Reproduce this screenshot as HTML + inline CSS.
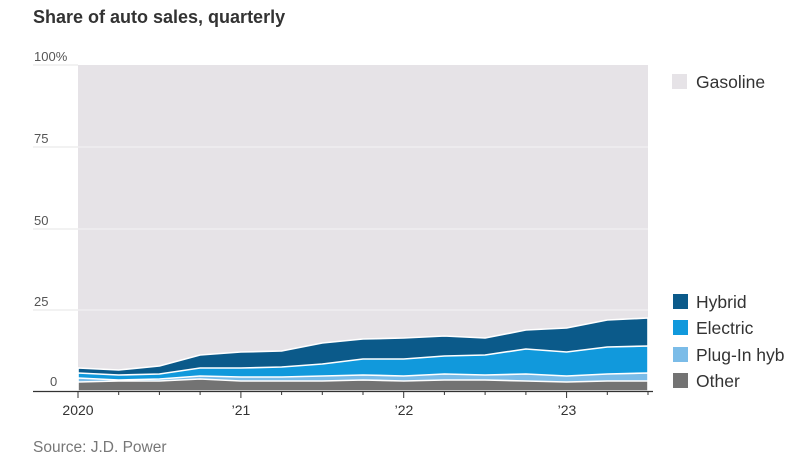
<!DOCTYPE html>
<html><head><meta charset="utf-8"><style>
html,body{margin:0;padding:0;background:#fff;}
svg{display:block;font-family:"Liberation Sans",sans-serif;}
</style></head><body>
<svg width="796" height="461" viewBox="0 0 796 461">
<text x="33" y="23" font-size="18" font-weight="bold" fill="#333">Share of auto sales, quarterly</text>
<rect x="78" y="65" width="570" height="326" fill="#e6e3e7"/>
<g stroke="#f4f3f5" stroke-width="1">
<line x1="78" y1="147" x2="648" y2="147"/><line x1="78" y1="229" x2="648" y2="229"/><line x1="78" y1="310" x2="648" y2="310"/>
</g>
<g stroke="#e5e5e5" stroke-width="1">
<line x1="33" y1="65" x2="78" y2="65"/><line x1="33" y1="147" x2="78" y2="147"/><line x1="33" y1="229" x2="78" y2="229"/><line x1="33" y1="310" x2="78" y2="310"/>
</g>
<g font-size="13" fill="#555">
<text x="34" y="61">100%</text><text x="34" y="143">75</text><text x="34" y="225">50</text><text x="34" y="306">25</text><text x="50" y="386">0</text>
</g>
<g stroke="#fff" stroke-width="1.6" stroke-linejoin="round">
<polygon fill="#0b5a8a" points="78,391 78,368 118.7,370 159.4,366 200.1,355 240.9,352 281.6,351 322.3,343 363,339 403.7,338 444.4,336 485.1,338 525.9,330 566.6,328 607.3,320 648,318 648,391"/>
<polygon fill="#1199dc" points="78,391 78,373 118.7,375 159.4,374 200.1,368 240.9,368 281.6,367 322.3,364 363,359 403.7,359 444.4,356 485.1,355 525.9,349 566.6,352 607.3,347 648,346 648,391"/>
<polygon fill="#7bbce8" points="78,391 78,378 118.7,380 159.4,379 200.1,376 240.9,377 281.6,377 322.3,376 363,375 403.7,376 444.4,374 485.1,375 525.9,374 566.6,376 607.3,374 648,373 648,391"/>
<polygon fill="#737373" points="78,391 78,382 118.7,381 159.4,381 200.1,379 240.9,381 281.6,381 322.3,381 363,380 403.7,381 444.4,380 485.1,380 525.9,381 566.6,382 607.3,381 648,381 648,391"/>
</g>
<line x1="33" y1="391.5" x2="653" y2="391.5" stroke="#333" stroke-width="1.2"/>
<g stroke="#333" stroke-width="1">
<line x1="78" y1="391" x2="78" y2="398"/><line x1="118.7" y1="391" x2="118.7" y2="395"/><line x1="159.4" y1="391" x2="159.4" y2="395"/><line x1="200.1" y1="391" x2="200.1" y2="395"/><line x1="240.9" y1="391" x2="240.9" y2="398"/><line x1="281.6" y1="391" x2="281.6" y2="395"/><line x1="322.3" y1="391" x2="322.3" y2="395"/><line x1="363" y1="391" x2="363" y2="395"/><line x1="403.7" y1="391" x2="403.7" y2="398"/><line x1="444.4" y1="391" x2="444.4" y2="395"/><line x1="485.1" y1="391" x2="485.1" y2="395"/><line x1="525.9" y1="391" x2="525.9" y2="395"/><line x1="566.6" y1="391" x2="566.6" y2="398"/><line x1="607.3" y1="391" x2="607.3" y2="395"/><line x1="648" y1="391" x2="648" y2="395"/>
</g>
<g font-size="14" fill="#333" text-anchor="middle">
<text x="78" y="415">2020</text><text x="241" y="415">’21</text><text x="404" y="415">’22</text><text x="567" y="415">’23</text>
</g>
<text x="33" y="452" font-size="15.5" fill="#777">Source: J.D. Power</text>
<g font-size="17.5" fill="#333">
<rect x="672" y="74" width="15" height="15" fill="#e6e3e7"/><text x="696" y="88">Gasoline</text>
<rect x="673" y="294" width="15" height="15" fill="#0b5a8a"/><text x="696" y="308">Hybrid</text>
<rect x="673" y="320" width="15" height="15" fill="#1199dc"/><text x="696" y="334">Electric</text>
<rect x="673" y="347" width="15" height="15" fill="#7bbce8"/><text x="696" y="361">Plug-In hyb</text>
<rect x="673" y="373" width="15" height="15" fill="#737373"/><text x="696" y="387">Other</text>
</g>
</svg>
</body></html>
